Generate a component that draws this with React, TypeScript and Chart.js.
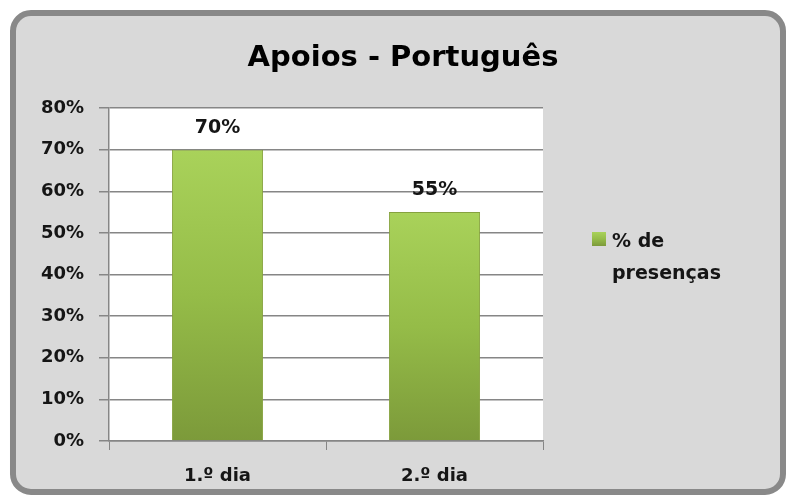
import React, { useEffect, useRef } from "react";
import { Chart, registerables } from "chart.js";

Chart.register(...registerables);

const chartTitle = "Apoios - Português";
const categories = ["1.º dia", "2.º dia"];
const seriesLabel = "% de presenças";
const presencas = [70, 55];
const yMin = 0;
const yMax = 80;
const yStep = 10;

const FONT = "'DejaVu Sans', sans-serif";
const GRID = "#868686";
const TEXT = "#151515";

function barGradient(ctx: CanvasRenderingContext2D, top: number, bottom: number) {
  const g = ctx.createLinearGradient(0, top, 0, bottom);
  g.addColorStop(0, "#a9d25a");
  g.addColorStop(0.5, "#95bc48");
  g.addColorStop(1, "#7c9a3a");
  return g;
}

function wrapText(ctx: CanvasRenderingContext2D, text: string, maxWidth: number) {
  const words = text.split(" ");
  const lines: string[] = [];
  let cur = "";
  for (const w of words) {
    const test = cur ? cur + " " + w : w;
    if (ctx.measureText(test).width > maxWidth && cur) {
      lines.push(cur);
      cur = w;
    } else cur = test;
  }
  if (cur) lines.push(cur);
  return lines;
}

export default function App() {
  const ref = useRef<HTMLCanvasElement>(null);

  useEffect(() => {
    document.body.style.margin = "0";
    const canvas = ref.current!;

    const framePlugin = {
      id: "excelFrame",
      beforeDraw(chart: any) {
        const { ctx, width, height, chartArea } = chart;
        ctx.save();
        ctx.fillStyle = "#ffffff";
        ctx.fillRect(0, 0, width, height);
        ctx.beginPath();
        (ctx as any).roundRect(13, 13, 770, 479, 18);
        ctx.fillStyle = "#d9d9d9";
        ctx.fill();
        ctx.lineWidth = 6;
        ctx.strokeStyle = "#898989";
        ctx.stroke();
        ctx.fillStyle = "#ffffff";
        ctx.fillRect(
          chartArea.left,
          chartArea.top,
          chartArea.right - chartArea.left,
          chartArea.bottom - chartArea.top
        );
        ctx.restore();
      },
      afterDatasetsDraw(chart: any) {
        const { ctx } = chart;
        const meta = chart.getDatasetMeta(0);
        const data = chart.data.datasets[0].data as number[];
        ctx.save();
        ctx.font = `bold 19px ${FONT}`;
        ctx.fillStyle = TEXT;
        ctx.textAlign = "center";
        ctx.textBaseline = "alphabetic";
        meta.data.forEach((bar: any, i: number) => {
          ctx.fillText(data[i] + "%", bar.x, bar.y - 17);
        });
        ctx.restore();
      },
      afterDraw(chart: any) {
        const { ctx } = chart;
        ctx.save();
        ctx.font = `bold 29px ${FONT}`;
        ctx.fillStyle = "#000000";
        ctx.textAlign = "center";
        ctx.textBaseline = "alphabetic";
        ctx.fillText(chartTitle, 403, 66);
        const ds = chart.data.datasets[0];
        ctx.fillStyle = barGradient(ctx, 232, 246);
        ctx.fillRect(592, 232, 14, 14);
        ctx.font = `bold 19px ${FONT}`;
        ctx.fillStyle = TEXT;
        ctx.textAlign = "left";
        const lines = wrapText(ctx, ds.label, 100);
        lines.forEach((l, i) => ctx.fillText(l, 612, 247 + i * 32));
        ctx.restore();
      },
    };

    const chart = new Chart(canvas, {
      type: "bar",
      data: {
        labels: categories,
        datasets: [
          {
            label: seriesLabel,
            data: presencas,
            backgroundColor: (c: any) => {
              const ch = c.chart;
              const y = ch.scales && ch.scales.y;
              if (!y || !ch.chartArea || c.raw == null) return "#95bc48";
              const top = y.getPixelForValue(c.raw as number);
              const bottom = y.getPixelForValue(0);
              return barGradient(ch.ctx, top, bottom);
            },
            borderColor: "#86a23f",
            borderWidth: 1,
            barPercentage: 0.42,
            categoryPercentage: 1,
          },
        ],
      },
      options: {
        responsive: false,
        animation: false,
        layout: { padding: { top: 108, right: 245, bottom: 0, left: 0 } },
        plugins: {
          legend: { display: false },
          title: { display: false },
          tooltip: { enabled: false },
        },
        scales: {
          x: {
            grid: {
              display: true,
              drawOnChartArea: false,
              drawTicks: true,
              tickLength: 9,
              color: GRID,
              offset: true,
            },
            border: { display: true, color: GRID, width: 1.5 },
            ticks: {
              font: { family: FONT, size: 18, weight: "bold" },
              color: TEXT,
              padding: 16,
            },
            afterFit(scale: any) {
              scale.height = 55;
            },
          },
          y: {
            min: yMin,
            max: yMax,
            grid: {
              color: GRID,
              lineWidth: 1.5,
              tickLength: 10,
            },
            border: { display: true, color: GRID, width: 1.5 },
            ticks: {
              stepSize: yStep,
              callback: (v: any) => v + "%",
              font: { family: FONT, size: 18, weight: "bold" },
              color: TEXT,
              padding: 15,
            },
            afterFit(scale: any) {
              scale.width = 109;
            },
          },
        },
      },
      plugins: [framePlugin],
    });

    return () => chart.destroy();
  }, []);

  return (
    <div style={{ position: "fixed", left: 0, top: 0, width: 788, height: 496 }}>
      <canvas ref={ref} width={788} height={496} />
    </div>
  );
}
